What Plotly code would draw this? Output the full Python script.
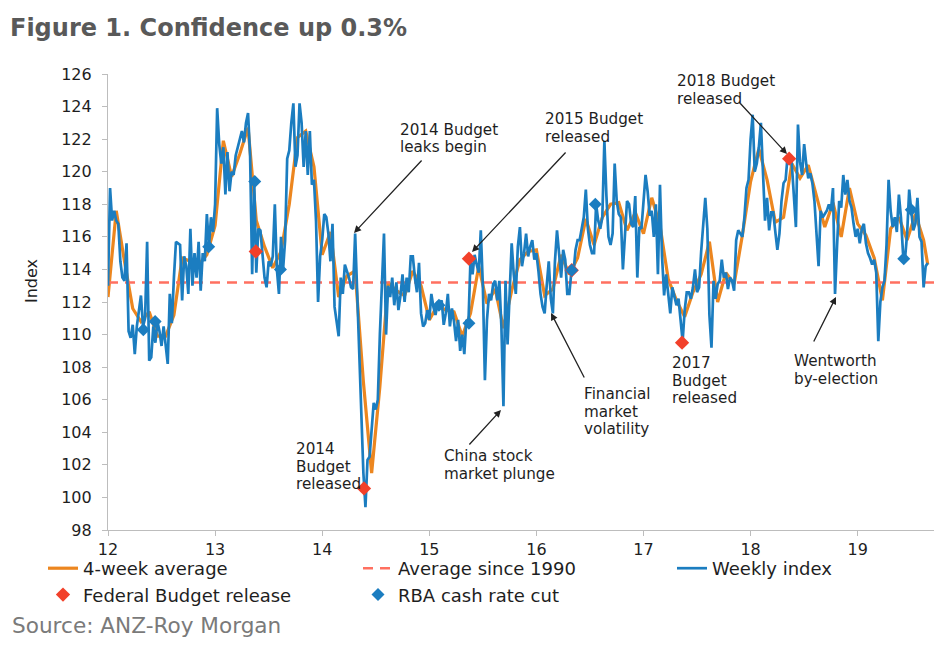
import plotly.graph_objects as go

# ---------------- DATA ----------------
# Weekly ANZ-Roy Morgan consumer confidence index, one list per year (week k of year)
W2012 = [113, 119, 117, 117.6, 117, 116.8, 114.5, 113.5, 113.3, 115.6, 110.2, 109.8, 110.6, 108.8,
         110.5, 111.5, 112.4, 110.5, 111, 115.7, 108.4, 108.6, 110.5, 109.5, 110.8, 110.2, 109.3,
         110.5, 109.5, 108.2, 112.5, 110.7, 113.5, 115.7, 115.6, 115.5, 112.1, 114.8, 114.2, 112.5,
         116.5, 113, 115, 113.5, 115.7, 112.7, 115, 114.5, 117.4, 115.4, 117.2, 116.3]
W2013 = [118, 123.9, 121.7, 120.5, 121.5, 118.6, 121.2, 118.8, 120, 119.8, 121, 121.5, 122, 122.5,
         121.8, 123, 123.6, 121, 113.7, 119.4, 113.8, 116.5, 116.4, 115, 113.5, 112.9, 114.5, 114.2,
         114.8, 118.0, 114, 112.5, 116, 114, 115.8, 120.8, 121.3, 123, 124.2, 120.3, 121, 124.2, 123,
         120.3, 122.5, 119.8, 122.5, 119.2, 119.5, 117, 112, 114.8]
W2014 = [115.8, 117.4, 117.2, 116.2, 114.5, 116.8, 111.7, 110.8, 109.9, 113.5, 112.5, 114.3, 113.9,
         113.5, 112.9, 112.8, 116.2, 112.7, 108.6, 105.5, 101.5, 99.4, 102.3, 102.5, 104.5, 105.8,
         105.4, 106, 110, 113.5, 116.2, 110, 113, 112.3, 113.5, 111.8, 113.2, 111.5, 112.4, 113.7,
         112, 113.5, 112.6, 114.8, 114.8, 113.5, 112.6, 114.4, 111.3, 110.5, 110.7, 111.5]
W2015 = [110.9, 112.5, 111.7, 111.2, 111.9, 111.8, 112.1, 110.6, 111.3, 112.5, 110.5, 111.6, 110.8,
         109.6, 110.9, 109.0, 110, 108.8, 110.9, 110.7, 114.6, 113.7, 114.9, 114.3, 113.8, 116.4,
         113, 107.2, 110.9, 112.5, 112.1, 113.1, 113.3, 112.1, 113.3, 110.5, 105.6, 113.3, 109.4,
         112.5, 115.6, 113.7, 112.5, 115.4, 116.6, 114.2, 115, 116.2, 114.8, 115.4, 115.8, 114.6]
W2016 = [115, 113.9, 112.5, 111.7, 111.3, 113, 114.5, 112.2, 111.3, 114.5, 116.4, 115, 113.5, 115.2,
         114.6, 112.5, 112.5, 113.9, 113.8, 115.2, 115.8, 115.8, 116.6, 117.2, 118.9, 116.5, 115.5,
         115, 115, 118.0, 117, 116.5, 117.2, 121.9, 118.5, 116, 115.5, 116.2, 120.5, 118.2, 117.4,
         117.2, 114, 116.2, 118.2, 118, 116.8, 116.6, 118.5, 113.5, 116.6, 116.5]
W2017 = [118, 119.8, 118.8, 117.3, 117.6, 116, 118, 113.7, 119.2, 114.8, 112.4, 113.7, 112.5, 111.3,
         112.9, 112.4, 111.8, 112.2, 110.9, 109.6, 111.5, 112.6, 112.6, 112.2, 112.9, 114, 112.6,
         112.9, 115.1, 116.6, 118.4, 116.5, 111.2, 109.2, 113.3, 112.2, 113.1, 113.3, 114.6, 113.5,
         113.8, 112.8, 113.5, 113.3, 112.7, 115.8, 116.4, 116.2, 116, 117.2, 119, 119.5]
W2018 = [122, 123.5, 120, 120.5, 121.5, 123, 119.5, 117, 118.4, 116.4, 117.5, 117.5, 116.3, 115.2,
         116.2, 118.2, 119.3, 119.5, 121, 120.8, 120.5, 118.2, 116.6, 122.9, 120.6, 119.8, 121.7,
         120.5, 119.6, 119.9, 119.3, 118.2, 116.5, 114.2, 117.6, 117.2, 117.4, 117.6, 118.0, 117.6,
         119, 112.5, 115.5, 118.2, 117.8, 119.8, 118.6, 119.5, 118.2, 117.8, 116.8, 116]
W2019 = [116.5, 115.6, 116.5, 116.8, 115.6, 115, 114.7, 114.3, 114.6, 113.8, 109.6, 112, 112.9,
         113.3, 115.5, 119.5, 117.6, 116.6, 117.2, 116.3, 118.6, 117.2, 115, 114.7, 116.2, 118.9,
         117.6, 116.4, 116.8, 118.4, 116, 115.7, 112.9, 114.2, 114.4]
WEEKLY_YEARS = [12, 13, 14, 15, 16, 17, 18, 19]
WEEKLY_BY_YEAR = [W2012, W2013, W2014, W2015, W2016, W2017, W2018, W2019]

# 4-week average, read every 4th week (week numbers listed per year)
AVG_2012 = [112.3, 117.6, 114.5, 111.6, 110.8, 111.4, 109.9, 109.9, 111.2, 114.7, 114.5, 114.3, 114.9]
AVG_2013 = [116.7, 121.9, 119.7, 121.1, 122.7, 117.0, 115.4, 114.1, 115.1, 118.0, 122.1, 122.5, 120.3]
AVG_2014 = [114.9, 116.3, 112.3, 113.6, 113.9, 107.1, 101.5, 106.8, 113.2, 112.7, 112.4, 113.9, 113.0]
AVG_2015 = [110.9, 111.8, 111.5, 111.4, 109.9, 111.3, 114.2, 111.9, 112.8, 110.4, 112.7, 114.6, 115.1]
AVG_2016 = [115.2, 112.4, 112.8, 114.9, 113.7, 114.7, 117.1, 115.5, 117.2, 118.0, 118.1, 116.4, 117.5]
AVG_2017 = [116.2, 118.4, 116.7, 113.4, 112.1, 111.1, 112.6, 113.7, 115.7, 112.0, 113.8, 113.1, 116.1]
AVG_2018 = [119.4, 121.4, 119.5, 116.9, 117.2, 120.5, 119.6, 120.4, 118.5, 116.6, 118.1, 116.0, 119.0]
AVG_2019 = [116.8, 116.1, 114.7, 112.1, 116.5, 117.2, 115.8, 117.4, 115.8, 114.3]
AVG_WEEKS_FULL_YEAR = [0, 4, 8, 12, 16, 20, 24, 28, 32, 36, 40, 44, 48]
AVG_WEEKS_2019 = [0, 4, 8, 12, 16, 20, 24, 28, 32, 34]
AVG_BY_YEAR = [AVG_2012, AVG_2013, AVG_2014, AVG_2015, AVG_2016, AVG_2017, AVG_2018, AVG_2019]

AVERAGE_SINCE_1990 = 113.2

# Event markers (decimal year, index value)
BUDGET_DATES = [13.38, 14.39, 15.37, 16.33, 17.36, 18.36]
BUDGET_VALUES = [115.1, 100.55, 114.66, 113.95, 109.5, 120.8]
RBA_DATES = [12.33, 12.44, 12.94, 13.37, 13.61, 15.09, 15.37, 16.33, 16.55, 19.43, 19.50]
RBA_VALUES = [110.3, 110.8, 115.4, 119.4, 114.0, 111.8, 110.7, 113.95, 118.0, 114.66, 117.67]

X_TICKS = [12, 13, 14, 15, 16, 17, 18, 19]
X_TICK_LABELS = ["12", "13", "14", "15", "16", "17", "18", "19"]
Y_TICKS = list(range(98, 127, 2))

TITLE = "Figure 1. Confidence up 0.3%"
SOURCE = "Source: ANZ-Roy Morgan"
Y_TITLE = "Index"

# ---------------- BUILD SERIES ----------------
weekly_x, weekly_y = [], []
for yr, vals in zip(WEEKLY_YEARS, WEEKLY_BY_YEAR):
    for k, v in enumerate(vals):
        weekly_x.append(yr + k / 52)
        weekly_y.append(v)

avg_x, avg_y = [], []
for yr, vals in zip(WEEKLY_YEARS, AVG_BY_YEAR):
    weeks = AVG_WEEKS_2019 if yr == 19 else AVG_WEEKS_FULL_YEAR
    for k, v in zip(weeks, vals):
        avg_x.append(yr + k / 52)
        avg_y.append(v)

FONT = "DejaVu Sans, Verdana, sans-serif"
BLUE = "#1B7DC0"
ORANGE = "#EC861F"
DASH_RED = "#FF7060"
BUDGET_RED = "#F2402A"
TEXT = "#1E1E1E"
AXIS = "#BDBDBD"

L, R, T, B = 108, 5, 74, 115
PW = 939 - L - R
PH = 645 - T - B
X0, X1 = 12, 12 + PW / 107.1

fig = go.Figure()
fig.add_trace(go.Scatter(x=avg_x, y=avg_y, mode="lines", name="4-week average",
                         legend="legend", line=dict(color=ORANGE, width=3.2)))
fig.add_trace(go.Scatter(x=[X0, X1], y=[AVERAGE_SINCE_1990, AVERAGE_SINCE_1990], mode="lines",
                         name="Average since 1990", legend="legend2",
                         line=dict(color=DASH_RED, width=2.6, dash="10px,7px")))
fig.add_trace(go.Scatter(x=weekly_x, y=weekly_y, mode="lines", name="Weekly index",
                         legend="legend3", line=dict(color=BLUE, width=2.7)))
fig.add_trace(go.Scatter(x=BUDGET_DATES, y=BUDGET_VALUES, mode="markers",
                         name="Federal Budget release", legend="legend",
                         marker=dict(symbol="diamond", size=11, color=BUDGET_RED)))
fig.add_trace(go.Scatter(x=RBA_DATES, y=RBA_VALUES, mode="markers", name="RBA cash rate cut",
                         legend="legend2",
                         marker=dict(symbol="diamond", size=10, color=BLUE)))


def px_to_x(px):
    return 12 + (px - L) / 107.1


def py_to_y(py):
    return 126 - (py - T) / (PH / 28)


ann = []
# annotation text blocks: (lines, left px, centre px of each line)
labels = [
    (["2014 Budget", "leaks begin"], 399, [129.5, 147]),
    (["2015 Budget", "released"], 544, [119, 136.5]),
    (["2018 Budget", "released"], 676, [81, 98.5]),
    (["2014", "Budget", "released"], 295, [449, 466.5, 484]),
    (["China stock", "market plunge"], 443, [456, 473.5]),
    (["Financial", "market", "volatility"], 583, [394, 411.5, 429]),
    (["2017", "Budget", "released"], 671, [363, 380.5, 398]),
    (["Wentworth", "by-election"], 793, [361, 378.5]),
]
for lines, lx, centres in labels:
    for txt, cy in zip(lines, centres):
        ann.append(dict(text=txt, x=px_to_x(lx), y=py_to_y(cy), xref="x", yref="y",
                        xanchor="left", yanchor="middle", align="left", showarrow=False,
                        borderpad=0, font=dict(family=FONT, size=15.2, color=TEXT)))
arrows = [
    (423, 159, 354, 233),
    (567, 151, 472, 252),
    (739, 102, 787, 154),
    (468, 446, 501, 410),
    (585, 379, 551, 313),
    (813, 343, 836, 297),
]
for tx, ty, hx, hy in arrows:
    ann.append(dict(text="", x=px_to_x(hx), y=py_to_y(hy), ax=px_to_x(tx), ay=py_to_y(ty),
                    xref="x", yref="y", axref="x", ayref="y", showarrow=True,
                    arrowhead=2, arrowsize=1.1, arrowwidth=1.3, arrowcolor="#222222",
                    standoff=0, startstandoff=0))
ann.append(dict(text=SOURCE, xref="paper", yref="paper", x=(10 - L) / PW,
                y=(645 - B - 625) / PH, xanchor="left", yanchor="middle", showarrow=False,
                font=dict(family=FONT, size=21.6, color="#7A7A7A")))
ann.append(dict(text=Y_TITLE, xref="paper", yref="paper", x=(31 - L) / PW,
                y=(645 - B - 281) / PH, xanchor="center", yanchor="middle", textangle=-90,
                showarrow=False, font=dict(family=FONT, size=16, color=TEXT)))

legend_common = dict(orientation="v", xref="container", yref="container",
                     xanchor="left", yanchor="top", traceorder="normal",
                     font=dict(family=FONT, size=18, color=TEXT), bgcolor="rgba(0,0,0,0)",
                     tracegroupgap=0)
LEG_TOP = 1 - 550 / 645

fig.update_layout(
    width=939, height=645,
    margin=dict(l=L, r=R, t=T, b=B, autoexpand=False),
    paper_bgcolor="white", plot_bgcolor="white",
    font=dict(family=FONT, color=TEXT),
    title=dict(text="<b>" + TITLE + "</b>", x=10 / 939, xanchor="left", xref="container",
               y=1 - 28 / 645, yanchor="middle", yref="container",
               font=dict(family=FONT, size=24, color="#595959")),
    showlegend=True,
    legend=dict(x=43 / 939, y=LEG_TOP, **legend_common),
    legend2=dict(x=358 / 939, y=LEG_TOP, **legend_common),
    legend3=dict(x=672 / 939, y=LEG_TOP, **legend_common),
    annotations=ann,
)
fig.update_xaxes(range=[X0, X1], tickvals=X_TICKS, ticktext=X_TICK_LABELS, showgrid=False,
                 zeroline=False, showline=True, linecolor=AXIS, linewidth=1.2,
                 ticks="outside", ticklen=5, tickcolor=AXIS,
                 tickfont=dict(family=FONT, size=16, color=TEXT))
fig.update_yaxes(range=[98, 126], tickvals=Y_TICKS, showgrid=False, zeroline=False,
                 showline=True, linecolor=AXIS, linewidth=1.2, ticks="outside", ticklen=5,
                 tickcolor=AXIS, ticklabelstandoff=7,
                 tickfont=dict(family=FONT, size=16, color=TEXT))

fig.write_html("out.html", config={"displayModeBar": False},
               post_script="document.body.style.margin='0';document.body.style.padding='0';")
